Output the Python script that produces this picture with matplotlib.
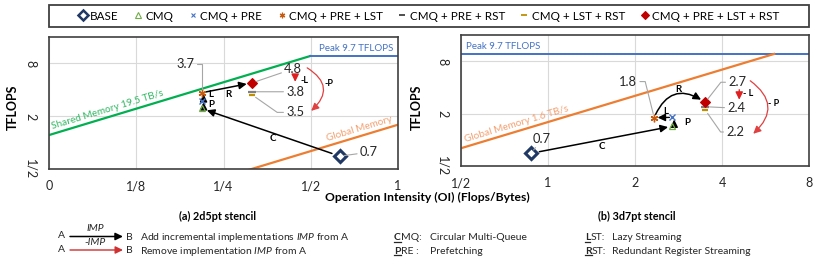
import matplotlib
matplotlib.use('Agg')
import math
import numpy as np
import matplotlib.pyplot as plt
import matplotlib.transforms as mtransforms
from matplotlib.lines import Line2D
from matplotlib.patches import Rectangle, FancyArrowPatch
from matplotlib.ticker import NullLocator

plt.rcParams['font.family'] = ['Lato', 'DejaVu Sans']
plt.rcParams['mathtext.fontset'] = 'custom'
plt.rcParams['mathtext.rm'] = 'Lato'
plt.rcParams['mathtext.it'] = 'Lato:italic'
plt.rcParams['mathtext.bf'] = 'Lato:bold'

# ---------------- data ----------------
configs = ['BASE', 'CMQ', 'CMQ + PRE', 'CMQ + PRE + LST', 'CMQ + PRE + RST',
           'CMQ + LST + RST', 'CMQ + PRE + LST + RST']
# (a) 2d5pt stencil
oi_2d = [0.63, 0.21, 0.21, 0.21, 0.314, 0.314, 0.314]
tflops_2d = [0.7, 2.45, 3.0, 3.7, 3.8, 3.5, 4.8]
# (b) 3d7pt stencil
oi_3d = [0.874, 2.69, 2.69, 2.33, 3.5, 3.5, 3.5]
tflops_3d = [0.7, 1.43, 1.81, 1.8, 2.4, 2.2, 2.7]

peak_tflops = 9.7
shared_bw = 19.5
global_bw = 1.6

x_ticks_2d = [1/16, 1/8, 1/4, 1/2, 1]
x_ticklabels_2d = ['0', '1/8', '1/4', '1/2', '1']
x_ticks_3d = [1/2, 1, 2, 4, 8]
x_ticklabels_3d = ['1/2', '1', '2', '4', '8']
y_ticks = [1/2, 2, 8]
y_ticklabels = ['1/2', '2', '8']
y_lim = (1/2, 16)

BASE, CMQ, PRE, PLST, PRST, LRST, ALL = range(7)

styles = [
    dict(marker='D', mfc='white', mec='#1F3864', mew=2.2, ms=6.5),
    dict(marker='^', mfc='none', mec='#70AD47', mew=0.9, ms=5),
    dict(marker='x', mfc='none', mec='#4472C4', mew=1.0, ms=4.5),
    dict(marker=(6, 2, 0), mfc='none', mec='#C55A11', mew=1.0, ms=5.5),
    dict(marker='_', mfc='none', mec='#7F7F7F', mew=1.6, ms=6),
    dict(marker='_', mfc='none', mec='#BF9000', mew=1.6, ms=5),
    dict(marker='D', mfc='#C00000', mec='#C00000', mew=0.8, ms=5),
]
legend_styles = [
    dict(marker='D', mfc='white', mec='#1F3864', mew=1.8, ms=5),
    dict(marker='^', mfc='none', mec='#70AD47', mew=0.8, ms=4),
    dict(marker='x', mfc='none', mec='#4472C4', mew=0.8, ms=3.5),
    dict(marker=(6, 2, 0), mfc='none', mec='#C55A11', mew=0.9, ms=4),
    dict(marker='_', mfc='none', mec='#404040', mew=1.3, ms=4),
    dict(marker='_', mfc='none', mec='#BF9000', mew=1.3, ms=4),
    dict(marker='D', mfc='#C00000', mec='#C00000', mew=0.8, ms=4.5),
]

GREEN = '#00B050'
ORANGE = '#ED7D31'
BLUE = '#4472C4'
RED = '#E02020'
GREY = '#A6A6A6'

W, H = 830, 265
fig = plt.figure(figsize=(W / 100, H / 100), dpi=100)


def rect(l, t, r, b):
    return [l / W, 1 - b / H, (r - l) / W, (b - t) / H]


ax1 = fig.add_axes(rect(49, 37, 398, 169))
ax2 = fig.add_axes(rect(461, 35, 809, 166))

for ax, xt, xtl in ((ax1, x_ticks_2d, x_ticklabels_2d), (ax2, x_ticks_3d, x_ticklabels_3d)):
    ax.set_xscale('log', base=2)
    ax.set_yscale('log', base=2)
    ax.set_xlim(xt[0], xt[-1])
    ax.set_ylim(*y_lim)
    ax.set_xticks(xt, xtl)
    ax.set_yticks(y_ticks, y_ticklabels)
    ax.xaxis.set_minor_locator(NullLocator())
    ax.yaxis.set_minor_locator(NullLocator())
    for lab in ax.get_yticklabels():
        lab.set_rotation(-90)
        lab.set_va('center')
    ax.tick_params(length=0, labelsize=9, colors='#262626')
    ax.tick_params(axis='x', pad=8)
    ax.tick_params(axis='y', pad=9)
    ax.grid(True, color='#D9D9D9', lw=0.8)
    ax.set_axisbelow(True)
    for s in ax.spines.values():
        s.set_color('#404040')
        s.set_linewidth(1.2)


def line_angle(ax):
    p1 = ax.transData.transform((1, 1))
    p2 = ax.transData.transform((2, 2))
    return math.degrees(math.atan2(p2[1] - p1[1], p2[0] - p1[0]))


# ---------------- rooflines ----------------
ridge_sh = peak_tflops / shared_bw
x0 = x_ticks_2d[0]
ax1.plot([x0, ridge_sh], [shared_bw * x0, peak_tflops], color=GREEN, lw=1.6, zorder=2)
ax1.plot([ridge_sh, x_ticks_2d[-1]], [peak_tflops, peak_tflops], color=BLUE, lw=1.4, zorder=2)
xs = np.array([x_ticks_2d[0], x_ticks_2d[-1]])
ax1.plot(xs, global_bw * xs, color=ORANGE, lw=1.6, zorder=2)

ridge_gl = peak_tflops / global_bw
ax2.plot([x_ticks_3d[0], x_ticks_3d[-1]], [peak_tflops, peak_tflops], color=BLUE, lw=1.4, zorder=2)
ax2.plot([x_ticks_3d[0], ridge_gl], [global_bw * x_ticks_3d[0], peak_tflops], color=ORANGE, lw=1.6, zorder=2)

a1 = line_angle(ax1)
a2 = line_angle(ax2)
xl = x_ticks_2d[0] * 1.03
ax1.annotate('Shared Memory 19.5 TB/s', xy=(xl, shared_bw * xl), xytext=(0, 3),
             textcoords='offset pixels', rotation=a1, rotation_mode='anchor',
             ha='left', va='bottom', color='#33B864', fontsize=7.2)
xr = x_ticks_2d[-1] * 0.965
ax1.annotate('Global Memory', xy=(xr, global_bw * xr), xytext=(0, 3),
             textcoords='offset pixels', rotation=a1, rotation_mode='anchor',
             ha='right', va='bottom', color='#F4A070', fontsize=7.2)
ax1.annotate('Peak 9.7 TFLOPS', xy=(xr, peak_tflops), xytext=(0, 3),
             textcoords='offset pixels', ha='right', va='bottom', color=BLUE, fontsize=7)
xl2 = x_ticks_3d[0] * 1.04
ax2.annotate('Global Memory 1.6 TB/s', xy=(xl2, global_bw * xl2), xytext=(0, 3),
             textcoords='offset pixels', rotation=a2, rotation_mode='anchor',
             ha='left', va='bottom', color='#F4A070', fontsize=7.2)
ax2.annotate('Peak 9.7 TFLOPS', xy=(xl2, peak_tflops), xytext=(0, 3),
             textcoords='offset pixels', ha='left', va='bottom', color=BLUE, fontsize=7)

# ---------------- points ----------------
for ax, oi, tf in ((ax1, oi_2d, tflops_2d), (ax2, oi_3d, tflops_3d)):
    for i, st in enumerate(styles):
        ax.plot([oi[i]], [tf[i]], linestyle='none', zorder=6, **st)


def offT(ax, dx, dy):
    return mtransforms.offset_copy(ax.transData, fig=fig, x=dx, y=-dy, units='dots')


def arrow(ax, p1, p2, d1=(0, 0), d2=(0, 0), color='black', rad=0.0, sA=0, sB=0, lw=1.1):
    ax.annotate('', xy=p2, xycoords=offT(ax, *d2), xytext=p1, textcoords=offT(ax, *d1),
                arrowprops=dict(arrowstyle='-|>,head_length=0.45,head_width=0.22',
                                color=color, lw=lw, shrinkA=sA, shrinkB=sB,
                                connectionstyle=f'arc3,rad={rad}', mutation_scale=10),
                zorder=4)


def tag(ax, p, text, dx, dy, color='black', size=7):
    ax.annotate(text, xy=p, xytext=(dx, -dy), textcoords='offset pixels',
                ha='center', va='center', fontsize=size, fontweight='bold', color=color, zorder=7)


def value(ax, oi, tf, i, dx, dy, conn='arc3'):
    ax.annotate(f'{tf[i]:.1f}', xy=(oi[i], tf[i]), xytext=(dx, -dy), textcoords='offset pixels',
                ha='center', va='center', fontsize=9.3, color='#262626', zorder=7,
                arrowprops=dict(arrowstyle='-', color=GREY, lw=0.8, shrinkA=0, shrinkB=3,
                                connectionstyle=conn))


# ----- (a) 2d5pt -----
P = lambda i: (oi_2d[i], tflops_2d[i])
arrow(ax1, P(BASE), P(CMQ), sA=6, sB=4)
arrow(ax1, P(CMQ), P(PRE), d1=(2, 0), d2=(2, 0), sA=1, sB=1, lw=1.0)
arrow(ax1, P(PRE), P(PLST), d1=(2, 0), d2=(2, 0), sA=1, sB=1, lw=1.0)
arrow(ax1, P(PLST), P(ALL), sA=3, sB=4)
arrow(ax1, P(ALL), P(ALL), d1=(43, -7), d2=(43, -1), color=RED, lw=1.0)
arrow(ax1, P(ALL), P(ALL), d1=(55, -15), d2=(59, 28), color='#E04040', rad=-0.65, lw=0.9)
tag(ax1, P(BASE), 'C', -67, -18)
tag(ax1, P(CMQ), 'P', 9.5, -4)
tag(ax1, P(PLST), 'L', 9, 2)
tag(ax1, P(PLST), 'R', 27, 2)
tag(ax1, P(ALL), '-L', 52, -2.5, size=6.5)
tag(ax1, P(ALL), '-P', 77, 1, size=6.5)
value(ax1, oi_2d, tflops_2d, BASE, 29, -4)
value(ax1, oi_2d, tflops_2d, PLST, -16, -29, 'angle,angleA=0,angleB=90,rad=0')
value(ax1, oi_2d, tflops_2d, ALL, 41, -14)
value(ax1, oi_2d, tflops_2d, PRST, 43, 0)
value(ax1, oi_2d, tflops_2d, LRST, 43, 17.5, 'angle,angleA=0,angleB=-35,rad=0')

# ----- (b) 3d7pt -----
Q = lambda i: (oi_3d[i], tflops_3d[i])
arrow(ax2, Q(BASE), Q(CMQ), sA=6, sB=3)
arrow(ax2, Q(CMQ), Q(PRE), d1=(2, 0), d2=(2, 0), sA=1, sB=1.5, lw=1.0)
arrow(ax2, Q(PRE), Q(PLST), sA=2, sB=2.5, lw=1.0)
arrow(ax2, Q(PLST), Q(ALL), rad=-0.6, sA=2.5, sB=3.5)
arrow(ax2, Q(ALL), Q(ALL), d1=(34, -12.5), d2=(34, -2.5), color=RED, lw=1.0)
arrow(ax2, Q(ALL), Q(ALL), d1=(45, -21.5), d2=(48, 31.5), color='#E04040', rad=-0.6, lw=0.9)
tag(ax2, Q(BASE), 'C', 71, -6.5)
tag(ax2, Q(CMQ), 'P', 15, -3.5)
tag(ax2, Q(PLST), 'L', 12, -6.5)
tag(ax2, Q(PLST), 'R', 24, -28.5)
tag(ax2, Q(ALL), '- L', 43, -8.5, size=6.5)
tag(ax2, Q(ALL), '- P', 68, 1.5, size=6.5)
value(ax2, oi_3d, tflops_3d, BASE, 11, -14.5)
value(ax2, oi_3d, tflops_3d, PLST, -26, -36, 'angle,angleA=0,angleB=104,rad=0')
value(ax2, oi_3d, tflops_3d, ALL, 32, -20, 'angle,angleA=0,angleB=52,rad=0')
value(ax2, oi_3d, tflops_3d, PRST, 31, 1.5)
value(ax2, oi_3d, tflops_3d, LRST, 30, 22, 'angle,angleA=0,angleB=-55,rad=0')

# ---------------- legend ----------------
handles = [Line2D([], [], linestyle='none', **st) for st in legend_styles]
fig.add_artist(Rectangle((49 / W, 1 - 26.5 / H), (808.5 - 49) / W, 21.5 / H,
                         transform=fig.transFigure, fill=False, edgecolor='#404040', lw=1.3))
fig.legend(handles, configs, loc='center', bbox_to_anchor=(429 / W, 1 - 16 / H), ncol=7,
           frameon=False, fontsize=8.4, handlelength=0.7, handletextpad=0.3,
           columnspacing=1.3, borderpad=0, borderaxespad=0)

# ---------------- axis labels ----------------
fig.text(427 / W, 1 - 197 / H, 'Operation Intensity (OI) (Flops/Bytes)', ha='center', va='center',
         fontsize=8.7, fontweight='bold')
fig.text(13 / W, 1 - 107 / H, 'TFLOPS', rotation=90, ha='center', va='center',
         fontsize=9, fontweight='bold')
fig.text(417 / W, 1 - 107 / H, 'TFLOPS', rotation=90, ha='center', va='center',
         fontsize=9, fontweight='bold')
fig.text(217 / W, 1 - 216 / H, '(a) 2d5pt stencil', ha='center', va='center',
         fontsize=7.8, fontweight='bold')
fig.text(637 / W, 1 - 216 / H, '(b) 3d7pt stencil', ha='center', va='center',
         fontsize=7.8, fontweight='bold')

# ---------------- key ----------------
KS = 7.5
def ftext(x, y, s, **kw):
    kw.setdefault('fontsize', KS)
    kw.setdefault('va', 'baseline')
    return fig.text(x / W, 1 - y / H, s, color='#262626', **kw)

ftext(61, 238.5, 'A', ha='center')
ftext(61, 251.5, 'A', ha='center')
ftext(129, 239.5, 'B', ha='center')
ftext(129, 253, 'B', ha='center')
ftext(95, 231, 'IMP', ha='center', style='italic')
ftext(95, 245, '-IMP', ha='center', style='italic')
fig.add_artist(FancyArrowPatch((70 / W, 1 - 236.5 / H), (123 / W, 1 - 236.5 / H),
                               transform=fig.transFigure, arrowstyle='-|>,head_length=0.45,head_width=0.22',
                               mutation_scale=10, color='black', lw=1.1, shrinkA=0, shrinkB=0))
fig.add_artist(FancyArrowPatch((70 / W, 1 - 250 / H), (123 / W, 1 - 250 / H),
                               transform=fig.transFigure, arrowstyle='-|>,head_length=0.45,head_width=0.22',
                               mutation_scale=10, color='#D03030', lw=1.0, shrinkA=0, shrinkB=0))
ftext(140, 240.5, r'Add incremental implementations $\mathit{IMP}$ from A')
ftext(140, 253.5, r'Remove implementation $\mathit{IMP}$ from A')

renderer = fig.canvas.get_renderer()


def underlined(x, y, first, rest):
    t = ftext(x, y, first, fontweight='bold')
    bb = t.get_window_extent(renderer)
    ftext(bb.x1, y, rest)
    base = 1 - (y + 1.5) / H
    fig.add_artist(Line2D([bb.x0 / W, bb.x1 / W], [base, base], transform=fig.transFigure,
                          color='#262626', lw=0.9))


underlined(394, 240.5, 'C', 'MQ:')
underlined(394, 253.5, 'P', 'RE :')
underlined(585, 240.5, 'L', 'ST:')
underlined(585, 253.5, 'R', 'ST:')
ftext(430, 240.5, 'Circular Multi-Queue')
ftext(430, 253.5, 'Prefetching')
ftext(612, 240.5, 'Lazy Streaming')
ftext(612, 253.5, 'Redundant Register Streaming')

fig.savefig('out.png', dpi=100)
